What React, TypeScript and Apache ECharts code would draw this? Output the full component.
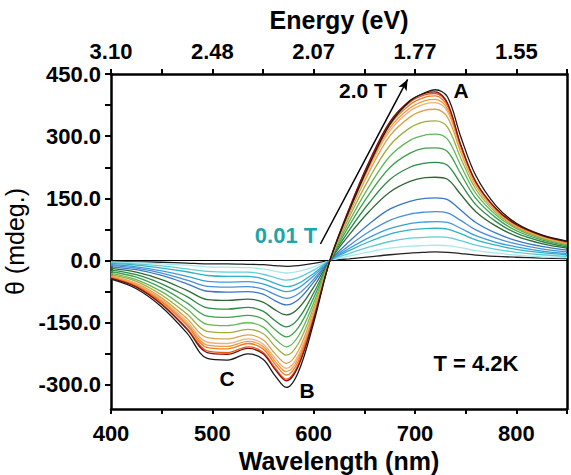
import React, { useEffect, useRef } from "react";
import * as echarts from "echarts";

// Wavelength sampling points (nm)
const wavelengths = [400, 425, 450, 475, 495, 515, 535, 550, 562, 573, 585, 600, 616, 635, 655, 675, 695, 710, 720, 732, 745, 760, 780, 800, 825, 850];

// MCD signal theta (mdeg) for increasing magnetic field, 0.01 T -> 2.0 T
const curve01 = [-2, -3, -4, -6, -8, -8, -9, -10, -12, -14, -12, -7, 0, 4, 9, 14, 18, 20, 21, 20, 17, 13, 10, 8, 6, 5];
const curve02 = [-3, -5, -8, -11, -15, -16, -17, -20, -26, -30, -26, -15, 0, 11, 21, 30, 35, 36, 37, 36, 31, 24, 18, 13, 9, 7];
const curve03 = [-5, -8, -13, -20, -26, -28, -28, -33, -41, -47, -41, -23, 0, 17, 33, 46, 54, 56, 57, 56, 48, 37, 27, 20, 14, 10];
const curve04 = [-7, -11, -18, -27, -36, -38, -38, -44, -55, -63, -55, -31, 0, 24, 46, 64, 74, 77, 78, 76, 65, 50, 37, 27, 19, 14];
const curve05 = [-10, -15, -25, -38, -50, -52, -51, -56, -67, -75, -66, -37, 0, 29, 56, 77, 89, 93, 94, 92, 78, 60, 44, 33, 23, 17];
const curve06 = [-12, -18, -30, -47, -62, -64, -63, -69, -82, -91, -80, -45, 0, 36, 70, 97, 112, 117, 118, 115, 97, 74, 54, 40, 28, 21];
const curve07 = [-15, -22, -36, -56, -74, -76, -75, -81, -97, -107, -94, -52, 0, 46, 89, 124, 143, 150, 151, 147, 122, 92, 66, 48, 34, 25];
const curve08 = [-19, -28, -46, -72, -94, -96, -93, -100, -119, -131, -115, -64, 0, 62, 119, 165, 191, 200, 201, 196, 160, 118, 83, 59, 41, 30];
const curve09 = [-23, -34, -56, -87, -114, -117, -113, -122, -145, -160, -140, -78, 0, 73, 140, 195, 225, 235, 237, 230, 186, 135, 94, 66, 46, 33];
const curve10 = [-27, -40, -66, -102, -134, -137, -132, -141, -167, -184, -161, -90, 0, 84, 161, 224, 259, 271, 272, 263, 210, 150, 103, 72, 50, 36];
const curve11 = [-31, -46, -75, -117, -154, -157, -150, -160, -189, -208, -182, -102, 0, 94, 180, 251, 290, 303, 305, 293, 230, 162, 110, 77, 53, 38];
const curve12 = [-34, -50, -83, -129, -171, -174, -166, -176, -207, -228, -200, -112, 0, 104, 199, 277, 320, 335, 337, 322, 248, 172, 115, 80, 55, 40];
const curve13 = [-37, -55, -90, -140, -186, -189, -179, -191, -225, -248, -217, -121, 0, 112, 215, 300, 346, 363, 365, 346, 262, 180, 119, 82, 57, 41];
const curve14 = [-39, -57, -94, -147, -197, -200, -189, -201, -236, -260, -228, -127, 0, 117, 224, 312, 361, 378, 381, 360, 270, 185, 122, 84, 58, 42];
const curve15 = [-40, -59, -97, -152, -204, -207, -195, -207, -243, -268, -235, -131, 0, 120, 229, 319, 368, 386, 389, 366, 274, 187, 123, 85, 59, 43];
const curve16 = [-41, -61, -100, -156, -210, -213, -200, -213, -250, -276, -242, -135, 0, 122, 234, 326, 376, 394, 397, 373, 278, 189, 124, 86, 60, 44];
const curve17 = [-42, -63, -104, -163, -218, -222, -208, -221, -259, -286, -250, -140, 0, 124, 238, 331, 382, 400, 403, 378, 280, 190, 125, 87, 61, 45];
const curve18 = [-43, -64, -106, -166, -222, -226, -212, -225, -263, -290, -254, -142, 0, 125, 240, 334, 386, 404, 407, 380, 280, 190, 125, 87, 61, 46];
const curve19 = [-45, -68, -112, -175, -236, -240, -225, -238, -278, -306, -268, -150, 0, 120, 232, 328, 385, 405, 412, 395, 300, 205, 132, 90, 62, 47];

const curves = [curve01, curve02, curve03, curve04, curve05, curve06, curve07, curve08, curve09, curve10, curve11, curve12, curve13, curve14, curve15, curve16, curve17, curve18, curve19];

const curveColors = ["#222222", "#a8e8ec", "#62cdd8", "#2fb2c4", "#3a9ed8", "#4a8ed6", "#3a78c2", "#2f6a36", "#2c8a45", "#3fa24a", "#62b85a", "#a2ad3e", "#d9a24c", "#f4ae7a", "#f59a3c", "#ee7c24", "#e05a18", "#8a0b0b", "#1a1a1a"];

const yLabelValues = [-300, -150, 0, 150, 300, 450];
const yTickValues = [-300, -225, -150, -75, 0, 75, 150, 225, 300, 375, 450];

// arrow from low field to high field (wavelength nm, theta mdeg)
const arrowStart = [606.7, 40];
const arrowEnd = [692.7, 437];

const FONT = '"Liberation Sans", Arial, sans-serif';

export default function App() {
  const ref = useRef<HTMLDivElement>(null);
  useEffect(() => {
    document.body.style.margin = "0";
    const chart = echarts.init(ref.current!, null, { renderer: "svg" });
    const axisLineStyle = { color: "#000", width: 2.5 };
    const series: any[] = curves.map((c, i) => ({
      type: "line",
      name: "B" + (i + 1),
      data: wavelengths.map((w, j) => [w, c[j]]),
      smooth: 0.35,
      showSymbol: false,
      lineStyle: { color: curveColors[i], width: 1.3 },
      z: 2 + i,
    }));
    series[0].markLine = {
      silent: true,
      symbol: ["none", "none"],
      label: { show: false },
      lineStyle: { color: "#000", width: 1.2, type: "solid" },
      data: [{ yAxis: 0 }],
    };
    series[18].markLine = {
      silent: true,
      symbol: ["none", "arrow"],
      symbolSize: [7, 11],
      label: { show: false },
      lineStyle: { color: "#000", width: 1.5, type: "solid" },
      data: [[{ coord: arrowStart }, { coord: arrowEnd }]],
    };
    const text = (t: string, x: number, y: number, size: number, color = "#000") => ({
      type: "text",
      x,
      y,
      z: 100,
      style: {
        text: t,
        fill: color,
        fontSize: size,
        fontWeight: "bold",
        fontFamily: FONT,
        align: "center",
        verticalAlign: "middle",
      },
    });
    chart.setOption({
      animation: false,
      textStyle: { fontFamily: FONT },
      grid: { left: 111, right: 4, top: 74, bottom: 66, containLabel: false, outerBoundsMode: "none" },
      xAxis: [
        {
          type: "value",
          position: "bottom",
          min: 400,
          max: 850,
          interval: 50,
          axisLine: { onZero: false, lineStyle: axisLineStyle },
          axisTick: { inside: false, length: 5, lineStyle: { width: 2, color: "#000" } },
          axisLabel: {
            formatter: (v: number) => (v % 100 === 0 ? String(v) : ""),
            fontSize: 22,
            fontWeight: "bold",
            color: "#000",
            margin: 13,
            fontFamily: FONT,
          },
          splitLine: { show: false },
          name: "Wavelength (nm)",
          nameLocation: "middle",
          nameGap: 38,
          nameTextStyle: { fontSize: 25, fontWeight: "bold", color: "#000", fontFamily: FONT },
        },
        {
          type: "value",
          position: "top",
          min: 400,
          max: 850,
          interval: 50,
          axisLine: { onZero: false, lineStyle: axisLineStyle },
          axisTick: { inside: false, length: 5, lineStyle: { width: 2, color: "#000" } },
          axisLabel: {
            formatter: (v: number) => (v % 100 === 0 ? (1240 / v).toFixed(2) : ""),
            fontSize: 22,
            fontWeight: "bold",
            color: "#000",
            margin: 12,
            fontFamily: FONT,
          },
          splitLine: { show: false },
          name: "Energy (eV)",
          nameLocation: "middle",
          nameGap: 42,
          nameTextStyle: { fontSize: 25, fontWeight: "bold", color: "#000", fontFamily: FONT },
        },
      ],
      yAxis: [
        {
          type: "value",
          position: "left",
          min: -358,
          max: 450,
          axisLine: { show: true, onZero: false, lineStyle: axisLineStyle },
          axisTick: { show: true, inside: false, length: 6, customValues: yTickValues, lineStyle: { width: 2, color: "#000" } },
          axisLabel: {
            customValues: yLabelValues,
            formatter: (v: number) => v.toFixed(1),
            fontSize: 22,
            fontWeight: "bold",
            color: "#000",
            margin: 10,
            fontFamily: FONT,
          },
          splitLine: { show: false },
          name: "θ (mdeg.)",
          nameLocation: "middle",
          nameRotate: 90,
          nameGap: 84,
          nameTextStyle: { fontSize: 25, fontWeight: "normal", color: "#000", fontFamily: FONT },
        },
        {
          type: "value",
          position: "right",
          min: -358,
          max: 450,
          axisLine: { show: true, onZero: false, lineStyle: axisLineStyle },
          axisTick: { show: false },
          axisLabel: { show: false },
          splitLine: { show: false },
        },
      ],
      series,
      graphic: [
        text("2.0 T", 363, 90, 21),
        text("A", 461, 90, 21),
        text("0.01 T", 286, 235, 22, "#20a5a8"),
        text("C", 227, 378, 21),
        text("B", 307, 390, 21),
        text("T = 4.2K", 476, 363, 22),
      ],
    });
    return () => chart.dispose();
  }, []);
  return <div ref={ref} style={{ width: 571, height: 475 }} />;
}
